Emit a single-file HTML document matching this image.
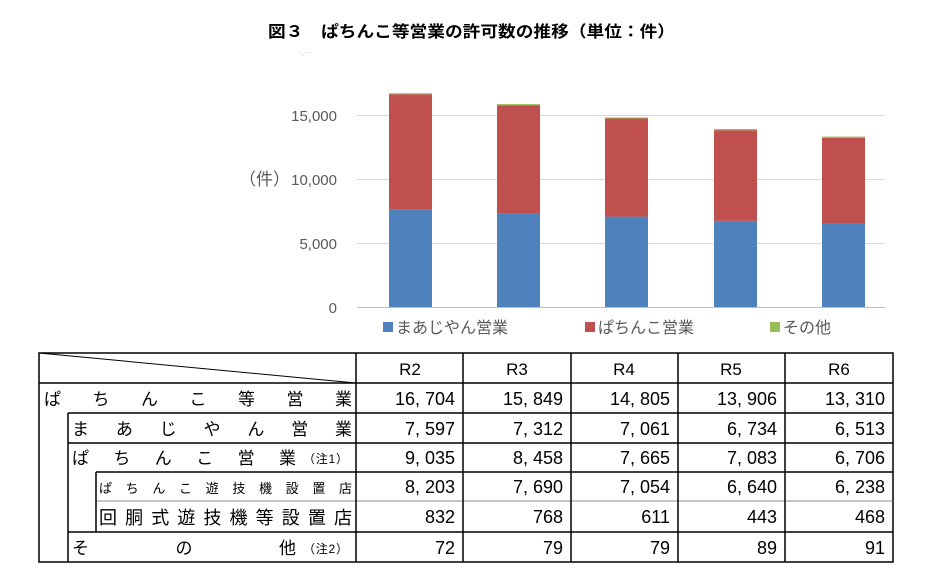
<!DOCTYPE html>
<html><head><meta charset="utf-8"><style>
html,body{margin:0;padding:0;background:#fff;}
svg{display:block;}
text{font-family:"Liberation Sans","Noto Sans CJK JP",sans-serif;}
.j{font-family:"Noto Sans CJK JP",sans-serif;}
</style></head><body>
<svg width="936" height="578" viewBox="0 0 936 578" xmlns="http://www.w3.org/2000/svg">
<text x="268" y="37" font-size="16" font-weight="bold" textLength="407" lengthAdjust="spacingAndGlyphs" class="j" fill="#000">図３　ぱちんこ等営業の許可数の推移（単位：件）</text>
<!-- clipped top label -->
<text x="299" y="55" font-size="8" fill="#bbb">·,···</text>
<!-- gridlines -->
<g stroke="#d9d9d9" stroke-width="1">
<line x1="357" y1="115.5" x2="885" y2="115.5"/>
<line x1="357" y1="179.5" x2="885" y2="179.5"/>
<line x1="357" y1="243.5" x2="885" y2="243.5"/>
</g>
<line x1="357" y1="307.5" x2="885" y2="307.5" stroke="#bfbfbf"/>
<!-- y labels -->
<g font-size="15" fill="#595959" text-anchor="end">
<text x="337" y="121">15,000</text>
<text x="337" y="185">10,000</text>
<text x="337" y="249">5,000</text>
<text x="337" y="313">0</text>
</g>
<text x="239" y="185" font-size="17" fill="#595959" class="j">（件）</text>
<!-- bars -->
<g>
<rect x="389" y="209.8" width="43" height="97.2" fill="#4f81bd"/>
<rect x="389" y="94.2" width="43" height="115.6" fill="#c0504d"/>
<rect x="389" y="93.2" width="43" height="1" fill="#9bbb59"/>
<rect x="497" y="213.4" width="43" height="93.6" fill="#4f81bd"/>
<rect x="497" y="105.2" width="43" height="108.2" fill="#c0504d"/>
<rect x="497" y="104.1" width="43" height="1.1" fill="#9bbb59"/>
<rect x="605" y="216.6" width="43" height="90.4" fill="#4f81bd"/>
<rect x="605" y="118.5" width="43" height="98.1" fill="#c0504d"/>
<rect x="605" y="117.5" width="43" height="1" fill="#9bbb59"/>
<rect x="714" y="220.8" width="43" height="86.2" fill="#4f81bd"/>
<rect x="714" y="130.2" width="43" height="90.6" fill="#c0504d"/>
<rect x="714" y="129" width="43" height="1.2" fill="#9bbb59"/>
<rect x="822" y="223.6" width="43" height="83.4" fill="#4f81bd"/>
<rect x="822" y="137.8" width="43" height="85.8" fill="#c0504d"/>
<rect x="822" y="136.6" width="43" height="1.2" fill="#9bbb59"/>
</g>
<!-- legend -->
<rect x="383" y="322" width="10" height="10" fill="#4f81bd"/>
<text x="396" y="333" font-size="16" fill="#595959" class="j">まあじやん営業</text>
<rect x="585" y="322" width="10" height="10" fill="#c0504d"/>
<text x="598" y="333" font-size="16" fill="#595959" class="j">ぱちんこ営業</text>
<rect x="770" y="322" width="10" height="10" fill="#9bbb59"/>
<text x="783" y="333" font-size="16" fill="#595959" class="j">その他</text>
<!-- table -->
<g stroke="#000" fill="none">
<rect x="39" y="353" width="854" height="209" stroke-width="1.5"/>
<line x1="39" y1="353" x2="356" y2="383" stroke-width="1"/>
<line x1="39" y1="383" x2="893" y2="383" stroke-width="1.5"/>
<line x1="68" y1="413" x2="893" y2="413" stroke-width="1.5"/>
<line x1="68" y1="443" x2="893" y2="443" stroke-width="1.5"/>
<line x1="96" y1="472" x2="893" y2="472" stroke-width="1.5"/>
<line x1="96" y1="501" x2="893" y2="501" stroke-width="0.8" stroke="#666"/>
<line x1="68" y1="532" x2="893" y2="532" stroke-width="1.5"/>
<line x1="68" y1="413" x2="68" y2="562" stroke-width="1.5"/>
<line x1="96" y1="472" x2="96" y2="532" stroke-width="1.5"/>
<line x1="356" y1="353" x2="356" y2="562" stroke-width="1.5"/>
<line x1="463" y1="353" x2="463" y2="562" stroke-width="1.5"/>
<line x1="571" y1="353" x2="571" y2="562" stroke-width="1.5"/>
<line x1="678" y1="353" x2="678" y2="562" stroke-width="1.5"/>
<line x1="785" y1="353" x2="785" y2="562" stroke-width="1.5"/>
</g>
<g class="j" fill="#000">
<text x="44" y="405" font-size="17" textLength="308" lengthAdjust="spacing">ぱちんこ等営業</text>
<text x="72" y="435" font-size="17" textLength="280" lengthAdjust="spacing">まあじやん営業</text>
<text x="72" y="464" font-size="17" textLength="224" lengthAdjust="spacing">ぱちんこ営業</text>
<text x="303" y="463" font-size="12" textLength="45" lengthAdjust="spacing">（注1）</text>
<text x="99" y="493" font-size="13" textLength="253" lengthAdjust="spacing">ぱちんこ遊技機設置店</text>
<text x="99" y="524" font-size="18" textLength="253" lengthAdjust="spacing">回胴式遊技機等設置店</text>
<text x="72" y="554" font-size="17" textLength="224" lengthAdjust="spacing">その他</text>
<text x="303" y="553" font-size="12" textLength="45" lengthAdjust="spacing">（注2）</text>
</g>
<g font-size="17" fill="#000" text-anchor="middle">
<text x="410" y="375">R2</text><text x="517" y="375">R3</text><text x="624" y="375">R4</text><text x="731" y="375">R5</text><text x="839" y="375">R6</text>
</g>
<g font-size="18" fill="#000" text-anchor="end">
<text x="455" y="405">16, 704</text><text x="563" y="405">15, 849</text><text x="670" y="405">14, 805</text><text x="777" y="405">13, 906</text><text x="885" y="405">13, 310</text>
<text x="455" y="435">7, 597</text><text x="563" y="435">7, 312</text><text x="670" y="435">7, 061</text><text x="777" y="435">6, 734</text><text x="885" y="435">6, 513</text>
<text x="455" y="464">9, 035</text><text x="563" y="464">8, 458</text><text x="670" y="464">7, 665</text><text x="777" y="464">7, 083</text><text x="885" y="464">6, 706</text>
<text x="455" y="493">8, 203</text><text x="563" y="493">7, 690</text><text x="670" y="493">7, 054</text><text x="777" y="493">6, 640</text><text x="885" y="493">6, 238</text>
<text x="455" y="523">832</text><text x="563" y="523">768</text><text x="670" y="523">611</text><text x="777" y="523">443</text><text x="885" y="523">468</text>
<text x="455" y="554">72</text><text x="563" y="554">79</text><text x="670" y="554">79</text><text x="777" y="554">89</text><text x="885" y="554">91</text>
</g>
</svg>
</body></html>
